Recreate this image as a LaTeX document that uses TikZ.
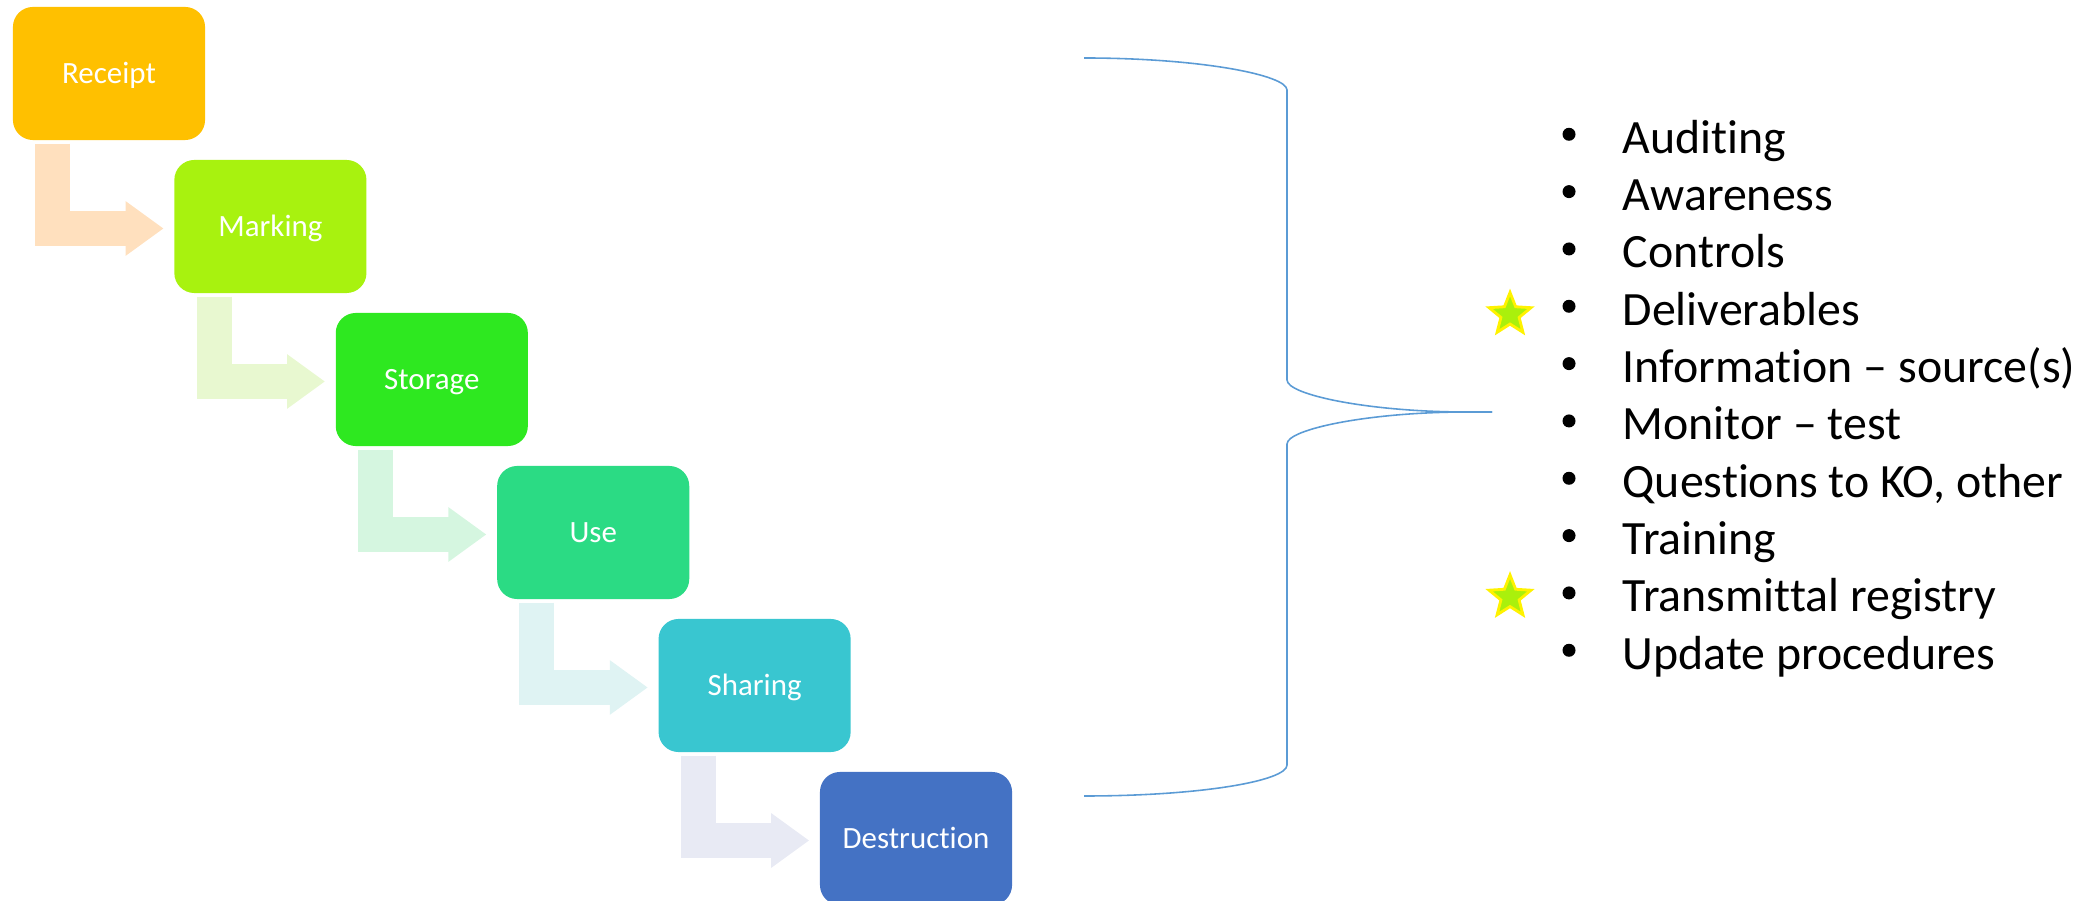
\documentclass[tikz,border=0pt]{standalone}
\usepackage{fontspec}
\setmainfont{Carlito}[Ligatures=TeX, RawFeature={-liga;-clig;-calt;-rlig;-dlig}]
\usepackage{tikz}
\usetikzlibrary{arrows.meta, shapes.geometric}
\definecolor{receiptcol}{HTML}{FFC000}
\definecolor{markingcol}{HTML}{A8F20F}
\definecolor{storagecol}{HTML}{2EE820}
\definecolor{usecol}{HTML}{2BDB84}
\definecolor{sharingcol}{HTML}{39C6D0}
\definecolor{destructcol}{HTML}{4472C4}
\definecolor{flowa}{HTML}{FFE0BE}
\definecolor{flowb}{HTML}{E8F8D0}
\definecolor{flowc}{HTML}{D5F6E0}
\definecolor{flowd}{HTML}{DFF3F3}
\definecolor{flowe}{HTML}{E8EAF4}
\definecolor{bracecol}{HTML}{5B9BD5}
\definecolor{starfill}{HTML}{AAF00C}
\tikzset{stage/.style={rectangle, rounded corners=0.2cm, minimum width=1.92cm, minimum height=1.33cm, inner sep=0pt, text=white, font=\fontsize{8.8}{10}\selectfont, text height=0.2cm, text depth=0cm},
    flow/.style={line width=0.35cm, line join=miter, -{Triangle[width=0.52cm,length=0.38cm]}},
    goldstar/.style={star, star points=5, star point ratio=2.3, minimum size=0.44cm, inner sep=0pt, fill=starfill, draw=yellow, line width=0.8pt},
    listitem/.style={anchor=base west, inner sep=0pt, font=\fontsize{13.6}{16}\selectfont},
    listdot/.style={circle, fill=black, minimum size=0.13cm, inner sep=0pt}}

\begin{document}
\begin{tikzpicture}[x=0.01cm, y=-0.01cm]
    \useasboundingbox (0,0) rectangle (2098,901);

    % stages
    \node[stage, fill=receiptcol] (receipt) at (109,73.5) {Receipt};
    \node[stage, fill=markingcol] (marking) at (270.4,226.5) {Marking};
    \node[stage, fill=storagecol] (storage) at (431.8,379.5) {Storage};
    \node[stage, fill=usecol] (use) at (593.2,532.5) {Use};
    \node[stage, fill=sharingcol] (sharing) at (754.6,685.5) {Sharing};
    \node[stage, fill=destructcol] (destruction) at (916,838.5) {Destruction};

    % bent arrows
    \draw[flow, draw=flowa]([shift={(40.5,3)}]receipt.south west) |- ([shift={(-10,2)}]marking.west);
    \draw[flow, draw=flowb]([shift={(40.5,3)}]marking.south west) |- ([shift={(-10,2)}]storage.west);
    \draw[flow, draw=flowc]([shift={(40.5,3)}]storage.south west) |- ([shift={(-10,2)}]use.west);
    \draw[flow, draw=flowd]([shift={(40.5,3)}]use.south west) |- ([shift={(-10,2)}]sharing.west);
    \draw[flow, draw=flowe]([shift={(40.5,3)}]sharing.south west) |- ([shift={(-10,2)}]destruction.west);

    % brace
    \draw[bracecol, line width=0.45pt](1492,412) -- (1467,412) .. controls (1370,412) and (1287,395) .. (1287,380) -- (1287,90) .. controls (1287,75) and (1200,58) .. (1084,58);
    \draw[bracecol, line width=0.45pt](1492,412) -- (1467,412) .. controls (1370,412) and (1287,429) .. (1287,444) -- (1287,765) .. controls (1287,781) and (1200,796) .. (1084,796);

    % list
    \foreach \txt [count=\k] in {Auditing, Awareness, Controls, Deliverables, Information -- source(s), Monitor -- test, {Questions to KO, other}, Training, Transmittal registry, Update procedures}{
        \node[listdot] (dot\k) at (1569,{134.3+57.33*(\k-1)}) {};
        \node[listitem] (item\k) at (1622,{153.3+57.33*(\k-1)}) {\txt};
    }

    \node[goldstar] (star1) at (1510,314.5) {};
    \node[goldstar] (star2) at (1510,597) {};
\end{tikzpicture}
\end{document}
